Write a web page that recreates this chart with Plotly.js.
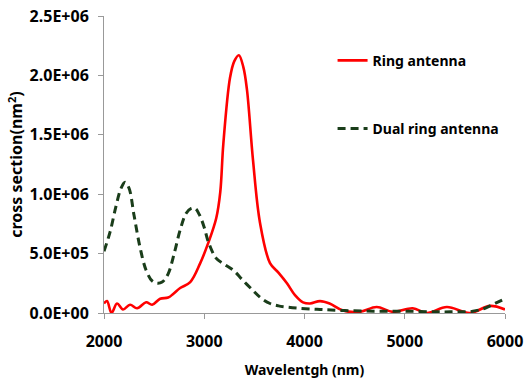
<!DOCTYPE html>
<html>
<head>
<meta charset="utf-8">
<script src="https://cdn.plot.ly/plotly-3.0.1.min.js"></script>
<style>html,body{margin:0;padding:0;background:#fff;}#chart{width:524px;height:381px;}</style>
</head>
<body>
<div id="chart"></div>
<script>
const ringX = [2000,2030,2075,2130,2190,2260,2330,2420,2480,2560,2640,2690,2760,2860,2960,3040,3120,3160,3190,3257,3300,3345,3390,3426,3486,3556,3656,3740,3825,3905,3985,4055,4155,4250,4385,4550,4720,4880,5080,5220,5420,5650,5850,6000];
const ringY = [0.08e6,0.10e6,0.0,0.08e6,0.03e6,0.07e6,0.04e6,0.09e6,0.07e6,0.12e6,0.13e6,0.16e6,0.21e6,0.26e6,0.42e6,0.59e6,0.80e6,1.02e6,1.42e6,1.98e6,2.12e6,2.17e6,2.07e6,1.88e6,1.29e6,0.76e6,0.42e6,0.34e6,0.25e6,0.15e6,0.09e6,0.08e6,0.10e6,0.08e6,0.02e6,0.01e6,0.05e6,0.01e6,0.04e6,0.0,0.05e6,0.0,0.06e6,0.03e6];
const dualX = [2000,2060,2120,2170,2210,2250,2300,2360,2420,2480,2530,2580,2640,2700,2760,2820,2870,2910,2950,3000,3040,3120,3200,3290,3380,3486,3560,3656,3740,3825,3950,4155,4400,4700,5000,5300,5500,5680,5800,5900,6000];
const dualY = [0.52e6,0.68e6,0.90e6,1.05e6,1.10e6,1.05e6,0.82e6,0.55e6,0.36e6,0.27e6,0.25e6,0.26e6,0.33e6,0.50e6,0.70e6,0.84e6,0.88e6,0.88e6,0.83e6,0.72e6,0.60e6,0.46e6,0.41e6,0.36e6,0.28e6,0.19e6,0.13e6,0.08e6,0.06e6,0.05e6,0.04e6,0.03e6,0.02e6,0.015e6,0.015e6,0.01e6,0.01e6,0.015e6,0.04e6,0.08e6,0.12e6];
const xTickVals = [2000,3000,4000,5000,6000];
const yTickVals = [0,0.5e6,1.0e6,1.5e6,2.0e6,2.5e6];
const yTickText = ['0.0E+00','5.0E+05','1.0E+06','1.5E+06','2.0E+06','2.5E+06'];

const fontFam = 'Noto Sans, Open Sans, DejaVu Sans, sans-serif';
const traces = [
  {x: ringX, y: ringY, type:'scatter', mode:'lines', name:'<b>Ring antenna</b>', legendgroup:'a',
   line:{color:'#ff0000', width:2.6, shape:'spline', smoothing:1}},
  {x: dualX, y: dualY, type:'scatter', mode:'lines', name:'<b>Dual ring antenna</b>', legendgroup:'b',
   line:{color:'#1a3d1a', width:3, dash:'8px,5px', shape:'spline', smoothing:1}}
];
const layout = {
  width:524, height:381,
  margin:{l:104, r:19, t:16, b:68},
  paper_bgcolor:'#fff', plot_bgcolor:'#fff',
  font:{family:fontFam, color:'#000'},
  showlegend:true,
  legend:{x:0.57, y:0.903, xanchor:'left', yanchor:'top', tracegroupgap:47,
    font:{size:14, family:fontFam, color:'#000'}, bgcolor:'rgba(0,0,0,0)', itemwidth:30},
  xaxis:{range:[2000,6000], tickvals:xTickVals, ticktext:xTickVals.map(String),
    showline:true, linecolor:'#999', linewidth:1, ticks:'outside', ticklen:5, tickcolor:'#999',
    showgrid:false, zeroline:false, ticklabelstandoff:9,
    tickfont:{size:16, family:fontFam, weight:'bold', color:'#000'},
    title:{text:'<b>Wavelentgh (nm)</b>', font:{size:14, family:fontFam, color:'#000'}, standoff:13}},
  yaxis:{range:[0,2.5e6], tickvals:yTickVals, ticktext:yTickText,
    showline:true, linecolor:'#999', linewidth:1, ticks:'outside', ticklen:5, tickcolor:'#999',
    showgrid:false, zeroline:false, ticklabelstandoff:6,
    tickfont:{size:16, family:fontFam, weight:'bold', color:'#000'},
    title:{text:'<b>cross section(nm<sup>2</sup>)</b>', font:{size:16, family:fontFam, color:'#000'}, standoff:2}}
};
Plotly.newPlot('chart', traces, layout, {displayModeBar:false, staticPlot:true});
</script>
</body>
</html>
